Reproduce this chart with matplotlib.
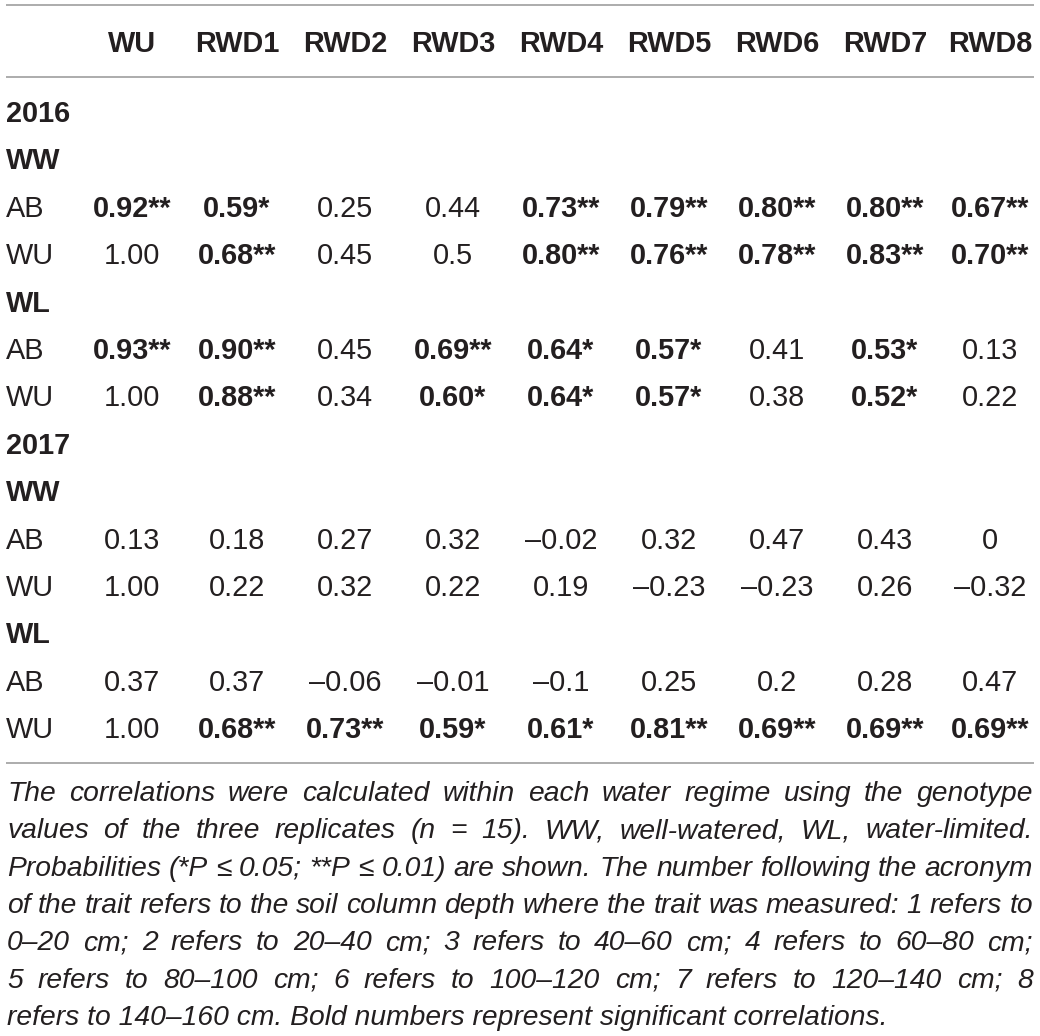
import matplotlib
matplotlib.use("Agg")
import matplotlib.pyplot as plt

plt.rcParams['font.family'] = ['Liberation Sans', 'DejaVu Sans']

columns = ['WU', 'RWD1', 'RWD2', 'RWD3', 'RWD4', 'RWD5', 'RWD6', 'RWD7', 'RWD8']

# rows in table order: (label, values); values None -> section heading
ab_2016_ww = ['0.92**', '0.59*', '0.25', '0.44', '0.73**', '0.79**', '0.80**', '0.80**', '0.67**']
wu_2016_ww = ['1.00', '0.68**', '0.45', '0.5', '0.80**', '0.76**', '0.78**', '0.83**', '0.70**']
ab_2016_wl = ['0.93**', '0.90**', '0.45', '0.69**', '0.64*', '0.57*', '0.41', '0.53*', '0.13']
wu_2016_wl = ['1.00', '0.88**', '0.34', '0.60*', '0.64*', '0.57*', '0.38', '0.52*', '0.22']
ab_2017_ww = ['0.13', '0.18', '0.27', '0.32', '–0.02', '0.32', '0.47', '0.43', '0']
wu_2017_ww = ['1.00', '0.22', '0.32', '0.22', '0.19', '–0.23', '–0.23', '0.26', '–0.32']
ab_2017_wl = ['0.37', '0.37', '–0.06', '–0.01', '–0.1', '0.25', '0.2', '0.28', '0.47']
wu_2017_wl = ['1.00', '0.68**', '0.73**', '0.59*', '0.61*', '0.81**', '0.69**', '0.69**', '0.69**']

rows = [
    ('2016', None), ('WW', None),
    ('AB', ab_2016_ww), ('WU', wu_2016_ww),
    ('WL', None),
    ('AB', ab_2016_wl), ('WU', wu_2016_wl),
    ('2017', None), ('WW', None),
    ('AB', ab_2017_ww), ('WU', wu_2017_ww),
    ('WL', None),
    ('AB', ab_2017_wl), ('WU', wu_2017_wl),
]

caption_lines = [
    "The correlations were calculated within each water regime using the genotype",
    "values of the three replicates (n = 15). WW, well-watered, WL, water-limited.",
    "Probabilities (*P \u2264 0.05; **P \u2264 0.01) are shown. The number following the acronym",
    "of the trait refers to the soil column depth where the trait was measured: 1 refers to",
    "0\u201320 cm; 2 refers to 20\u201340 cm; 3 refers to 40\u201360 cm; 4 refers to 60\u201380 cm;",
    "5 refers to 80\u2013100 cm; 6 refers to 100\u2013120 cm; 7 refers to 120\u2013140 cm; 8",
    "refers to 140\u2013160 cm. Bold numbers represent significant correlations.",
]

W, H = 1040, 1036
ink = '#231f20'
rule = '#a6a6a6'

fig = plt.figure(figsize=(W / 100, H / 100), dpi=100)
ax = fig.add_axes([0, 0, 1, 1])
ax.set_xlim(0, W)
ax.set_ylim(H, 0)
ax.axis('off')

# rules
for y in [5, 77, 763]:
    ax.plot([6, 1034], [y, y], color=rule, lw=1.3, solid_capstyle='butt')

col_x = [132, 237, 345, 453, 561, 669, 777, 885, 990]
fs = 20.8

for x, c in zip(col_x, columns):
    ax.text(x, 52, c, ha='center', va='baseline', fontsize=fs, fontweight='bold', color=ink)

y0, dy = 122, 47.4
for i, (label, vals) in enumerate(rows):
    y = y0 + i * dy
    if vals is None:
        ax.text(6, y, label, ha='left', va='baseline', fontsize=fs, fontweight='bold', color=ink)
        continue
    ax.text(6, y, label, ha='left', va='baseline', fontsize=fs, color=ink)
    for x, v in zip(col_x, vals):
        ax.text(x, y, v, ha='center', va='baseline', fontsize=fs, color=ink,
                fontweight='bold' if '*' in v else 'normal')

# caption, justified
renderer = fig.canvas.get_renderer()
left, right = 7, 1033


def width_of(s, size):
    t = ax.text(0, 0, s, fontsize=size, fontstyle='italic')
    w = t.get_window_extent(renderer).width
    t.remove()
    return w


# size the caption so the last (ragged) line is as long as in the original
cap_fs = 20 * 879 / width_of(caption_lines[-1], 20)
# but keep a small gap between words on the justified lines
for line in caption_lines[:-1]:
    words = line.split(' ')
    total = sum(width_of(w, cap_fs) for w in words) + 3.5 * (len(words) - 1)
    if total > right - left:
        cap_fs *= (right - left) / total

cy0, cdy = 801, 37.3
for i, line in enumerate(caption_lines):
    y = cy0 + i * cdy
    if i == len(caption_lines) - 1:
        ax.text(left, y, line, ha='left', va='baseline', fontsize=cap_fs,
                fontstyle='italic', color=ink)
        continue
    words = line.split(' ')
    widths = [width_of(w, cap_fs) for w in words]
    gap = (right - left - sum(widths)) / (len(words) - 1)
    x = left
    for w, wd in zip(words, widths):
        ax.text(x, y, w, ha='left', va='baseline', fontsize=cap_fs,
                fontstyle='italic', color=ink)
        x += wd + gap

fig.savefig('out.png', dpi=100)
